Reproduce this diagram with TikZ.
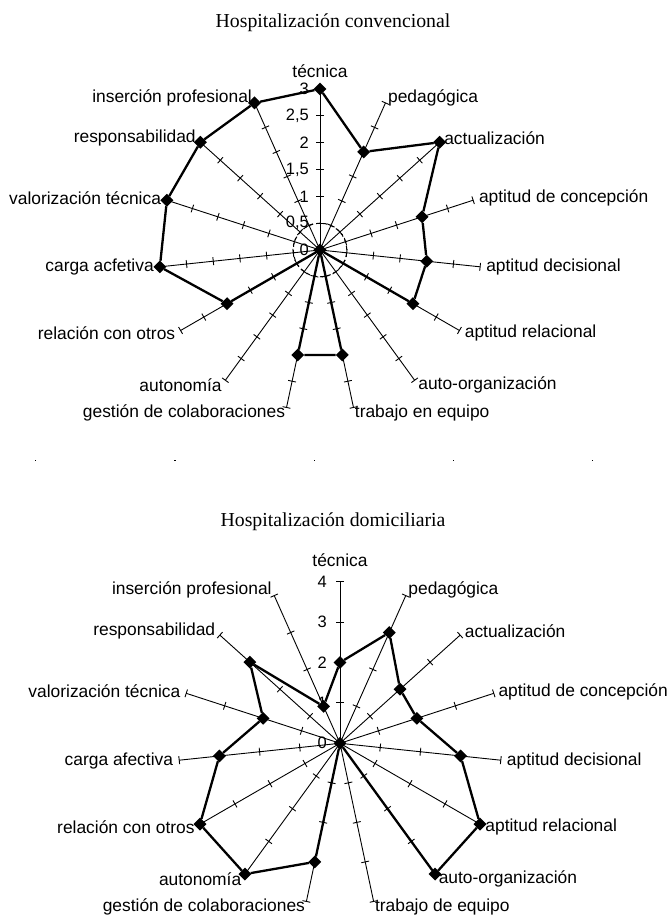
\documentclass[tikz,border=0pt]{standalone}
\usepackage{fontspec}
\newfontfamily\arialfont{Liberation Sans}
\newfontfamily\timesfont{Liberation Serif}
\usetikzlibrary{shapes.geometric}

\begin{document}
\begin{tikzpicture}[x=1pt,y=1pt,line join=bevel]
  \tikzstyle{axis}=[line width=0.9pt]
  \tikzstyle{tick}=[line width=0.9pt]
  \tikzstyle{datapoint}=[diamond,fill=black,inner sep=0pt,minimum size=13pt]
  \tikzstyle{dataline}=[line width=2.3pt]
  \tikzstyle{axislabel}=[inner sep=0pt,font=\arialfont\fontsize{17.4}{18}\selectfont]
  \tikzstyle{valuelabel}=[inner sep=0pt,anchor=east,font=\arialfont\fontsize{16.5}{17}\selectfont]
  \tikzstyle{charttitle}=[inner sep=0pt,anchor=base,font=\timesfont\fontsize{19.8}{20}\selectfont]
  \useasboundingbox (0,0) rectangle (668,918);

  % Hospitalizacion convencional
  \node[charttitle] (T_1) at (333,890) {Hospitalización convencional};
  \begin{scope}[shift={(320,668)}]
    \coordinate (M_1) at (0,0);
    \draw[line width=1pt,dash pattern=on 4pt off 3pt] (M_1) circle (26.8);
    \foreach \i/\lab/\anc/\rr in {1/técnica/south/172,2/pedagógica/west/167,
        3/actualización/west/167,4/aptitud de concepción/west/167,
        5/aptitud decisional/west/167,6/aptitud relacional/west/167,
        7/auto-organización/west/167,8/trabajo en equipo/west/167,
        9/gestión de colaboraciones/east/167,10/autonomía/east/167,
        11/relación con otros/east/167,12/carga acfetiva/east/167,
        13/valorización técnica/east/167,14/responsabilidad/east/167,
        15/inserción profesional/east/167} {
      \coordinate (E_\i) at ({90-24*(\i-1)}:161);
      \draw[axis] (M_1) -- (E_\i);
      \foreach \k in {1,...,6}
        \draw[tick,rotate={90-24*(\i-1)}] (\k*26.833,-4) -- (\k*26.833,4);
      \node[axislabel,anchor=\anc] (L_\i) at ({90-24*(\i-1)}:\rr) {\lab};
    }
    \foreach \k/\t in {0/0,1/{0,5},2/1,3/{1,5},4/2,5/{2,5},6/3}
      \node[valuelabel] (V_\k) at (-11,\k*26.833) {\t};
    \foreach \i/\v in {1/3,2/2,3/3,4/2,5/2,6/2,7/0,8/2,9/2,10/0,11/2,12/3,13/3,14/3,15/3}
      \node[datapoint] (P_\i) at ({90-24*(\i-1)}:{\v*53.67}) {};
    \draw[dataline] (P_1) -- (P_2) -- (P_3) -- (P_4) -- (P_5) -- (P_6) -- (P_7) -- (P_8)
      -- (P_9) -- (P_10) -- (P_11) -- (P_12) -- (P_13) -- (P_14) -- (P_15) -- (P_1);
  \end{scope}

  % separator dots
  \foreach \x in {35,174.3,313.6,452.9,592.2}
    \fill (\x,456.8) rectangle ++(1.2,1.2);

  % Hospitalizacion domiciliaria
  \node[charttitle] (T_2) at (333,391) {Hospitalización domiciliaria};
  \begin{scope}[shift={(340,174.7)}]
    \coordinate (M_2) at (0,0);
    \foreach \i/\lab/\anc/\rr in {1/técnica/south/176,2/pedagógica/west/167.7,
        3/actualización/west/167.7,4/aptitud de concepción/west/166.5,
        5/aptitud decisional/west/167.7,6/aptitud relacional/west/167.7,
        7/auto-organización/west/167.7,8/trabajo de equipo/west/167.7,
        9/gestión de colaboraciones/east/167.7,10/autonomía/east/167.7,
        11/relación con otros/east/167.7,12/carga afectiva/east/167.7,
        13/valorización técnica/east/167.7,14/responsabilidad/east/167.7,
        15/inserción profesional/east/167.7} {
      \coordinate (F_\i) at ({90-24*(\i-1)}:161.7);
      \draw[axis] (M_2) -- (F_\i);
      \foreach \k in {1,...,4}
        \draw[tick,rotate={90-24*(\i-1)}] (\k*40.42,-4) -- (\k*40.42,4);
      \node[axislabel,anchor=\anc] (N_\i) at ({90-24*(\i-1)}:\rr) {\lab};
    }
    \foreach \k in {0,...,4}
      \node[valuelabel] (W_\k) at (-13,\k*40.42) {\k};
    \foreach \i/\v in {1/2,2/3,3/2,4/2,5/3,6/4,7/4,8/0,9/3,10/4,11/4,12/3,13/2,14/3,15/1}
      \node[datapoint] (Q_\i) at ({90-24*(\i-1)}:{\v*40.42}) {};
    \draw[dataline] (Q_1) -- (Q_2) -- (Q_3) -- (Q_4) -- (Q_5) -- (Q_6) -- (Q_7) -- (Q_8)
      -- (Q_9) -- (Q_10) -- (Q_11) -- (Q_12) -- (Q_13) -- (Q_14) -- (Q_15) -- (Q_1);
  \end{scope}
\end{tikzpicture}
\end{document}
